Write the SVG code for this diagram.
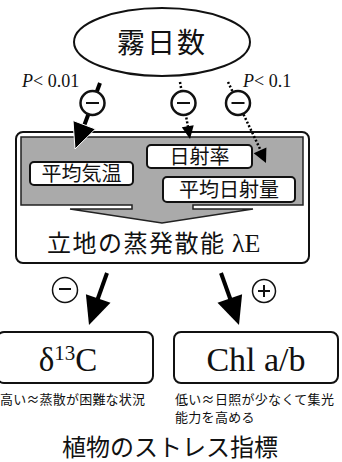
<svg xmlns="http://www.w3.org/2000/svg" width="342" height="462" viewBox="0 0 342 462">
<style>
.jp{font-family:"Noto Sans CJK JP","Noto Sans",sans-serif;fill:#111}
.ser{font-family:"Liberation Serif","Times New Roman",serif;fill:#111}
.box{fill:#fff;stroke:#111;stroke-width:2}
.sub{fill:#fff;stroke:#111;stroke-width:2}
.sign{fill:#fff;stroke:#111;stroke-width:2.5}
.sign2{fill:#fff;stroke:#111;stroke-width:1.5}
.bar{stroke:#111;stroke-width:2;fill:none}
.solid{stroke:#000;stroke-width:4;fill:none}
.dot{stroke:#000;stroke-width:2.5;stroke-dasharray:2 2;fill:none}
.head{fill:#000}
.halo{stroke:#fff;stroke-width:8;fill:none;stroke-linejoin:round}
</style>
<rect width="342" height="462" fill="#fff"/>

<g id="fog">
<ellipse cx="162" cy="42" rx="88" ry="34" fill="#fff" stroke="#111" stroke-width="2"/>
<text class="jp" x="162" y="53" font-size="28" text-anchor="middle" letter-spacing="2">霧日数</text>
</g>

<g id="pvals">
<text class="ser" x="22" y="87" font-size="18"><tspan font-style="italic">P</tspan>&lt; 0.01</text>
<text class="ser" x="243" y="87" font-size="18"><tspan font-style="italic">P</tspan>&lt; 0.1</text>
</g>

<g id="et">
<rect class="box" x="16" y="132" width="293" height="131" rx="7"/>
<path d="M21,137 H303 V205 H193 V209 H253 L162,223 L70,209 H132 V205 H21 Z" fill="#aaa" stroke="#222" stroke-width="1.5"/>
<text class="jp" x="47" y="252" font-size="24" letter-spacing="1.5">立地の蒸発散能</text>
<text x="232" y="252" font-size="26" font-family="Liberation Serif, Times New Roman, serif" fill="#111">λE</text>
</g>

<g id="temp">
<rect class="sub" x="30" y="162" width="103" height="23" rx="4"/>
<text class="jp" x="81.5" y="180.5" font-size="20" text-anchor="middle">平均気温</text>
</g>
<g id="rad">
<rect class="sub" x="147" y="145" width="105" height="23" rx="4"/>
<text class="jp" x="199.5" y="163.5" font-size="20" text-anchor="middle">日射率</text>
</g>
<g id="meanrad">
<rect class="sub" x="163" y="177" width="132" height="25" rx="4"/>
<text class="jp" x="229" y="197" font-size="20" text-anchor="middle">平均日射量</text>
</g>

<g id="connectors">
<path class="halo" d="M100,83 L84,125"/>
<line class="solid" x1="100" y1="83" x2="84" y2="126"/>
<polygon class="head" points="75,149 95.4,129 73,120.5" stroke="#fff" stroke-width="1"/>
<line class="dot" x1="180" y1="82" x2="188" y2="127"/>
<polygon class="head" points="190,139 193.7,125.2 181.8,127.2"/>
<line class="dot" x1="228" y1="82" x2="261" y2="151"/>
<polygon class="head" points="266,163 266.4,147.4 253.7,153.3"/>
<line class="solid" x1="107" y1="273" x2="97" y2="301" stroke-width="5"/>
<polygon class="head" points="89,325 110.5,302.8 85.9,294.2"/>
<line class="solid" x1="221" y1="273" x2="231" y2="301" stroke-width="5"/>
<polygon class="head" points="239,325 242.1,294.2 217.5,302.8"/>
</g>

<g id="signs">
<circle class="sign" cx="92.5" cy="103" r="12"/>
<line class="bar" x1="86" y1="103" x2="99" y2="103"/>
<circle class="sign" cx="183.5" cy="103" r="12"/>
<line class="bar" x1="177" y1="103" x2="190" y2="103"/>
<circle class="sign" cx="238" cy="103" r="12"/>
<line class="bar" x1="231.5" y1="103" x2="244.5" y2="103"/>
<circle class="sign2" cx="65" cy="290" r="12.5"/>
<line class="bar" x1="59" y1="289" x2="71" y2="289" stroke-width="1.3"/>
<circle class="sign2" cx="264" cy="291" r="11.5"/>
<line class="bar" x1="258" y1="291" x2="270" y2="291" stroke-width="1.3"/>
<line class="bar" x1="264" y1="285" x2="264" y2="297" stroke-width="1.3"/>
</g>

<g id="d13c">
<rect class="box" x="-3" y="332" width="156" height="51" rx="7"/>
<text class="ser" x="68" y="371" font-size="33" text-anchor="middle">δ<tspan font-size="21" dy="-11">13</tspan><tspan dy="11">C</tspan></text>
<text class="jp" x="0" y="404" font-size="13" letter-spacing="0.2">高い≈蒸散が困難な状況</text>
</g>

<g id="chl">
<rect class="box" x="174" y="332" width="164" height="51" rx="7"/>
<text class="ser" x="256" y="371" font-size="34" text-anchor="middle">Chl a/b</text>
<text class="jp" x="175" y="404" font-size="13" letter-spacing="0.3">低い≈日照が少なくて集光</text>
<text class="jp" x="175" y="422" font-size="13" letter-spacing="0.3">能力を高める</text>
</g>

<g id="title">
<text class="jp" x="170" y="456" font-size="24" text-anchor="middle">植物のストレス指標</text>
</g>
</svg>
